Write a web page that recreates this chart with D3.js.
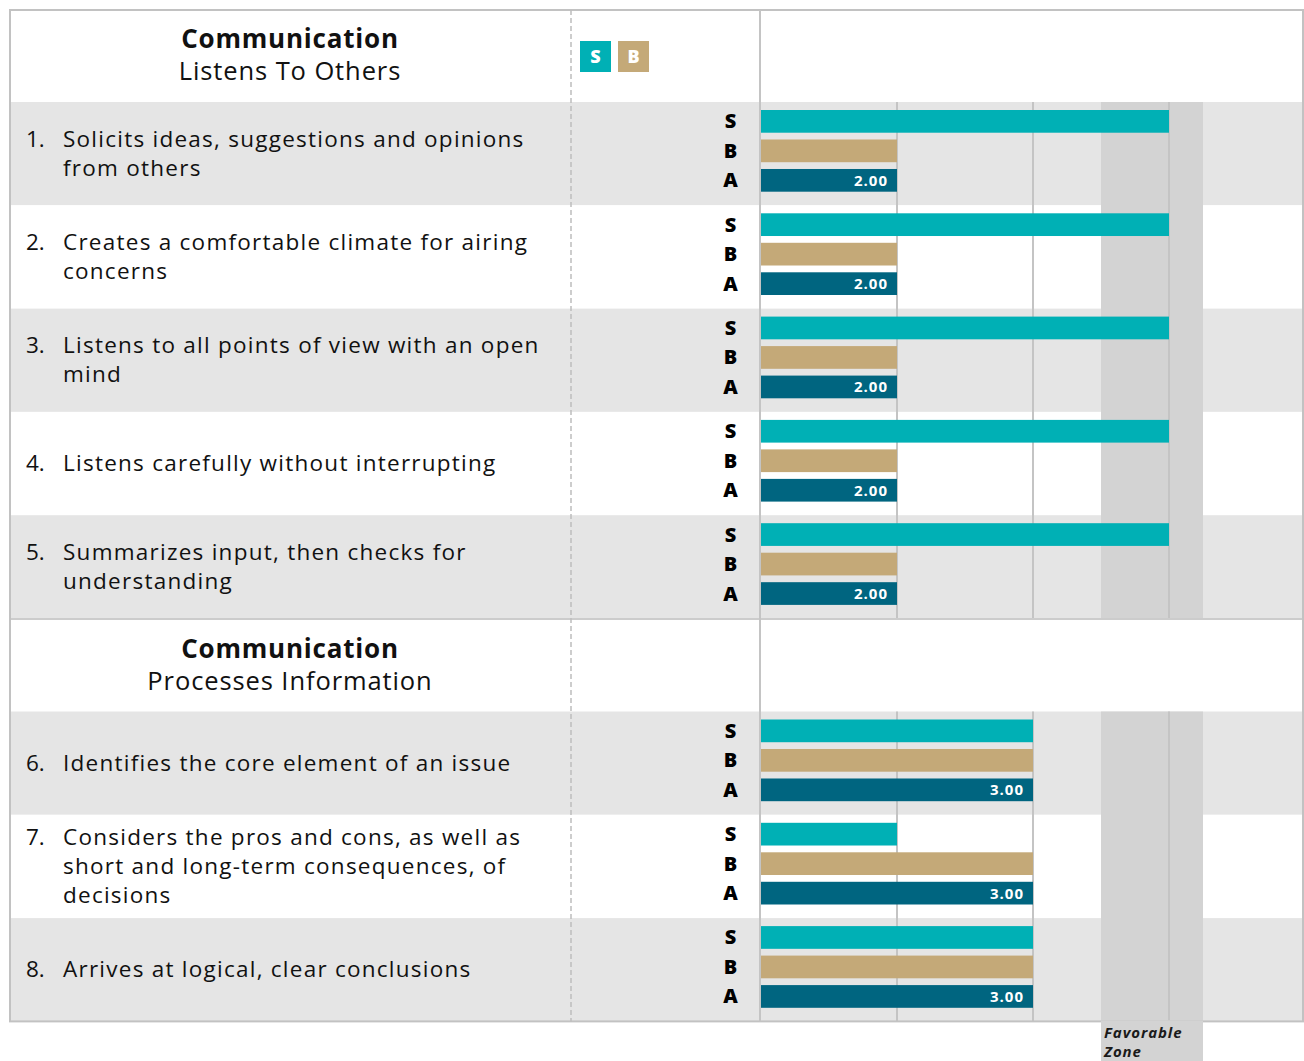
<!DOCTYPE html>
<html>
<head>
<meta charset="utf-8">
<script src="https://cdn.jsdelivr.net/npm/d3@7"></script>
<style>
  body { margin: 0; background: white; }
  svg { display: block; font-family: "Open Sans", sans-serif; }
</style>
</head>
<body>
<svg id="chart"></svg>
<script>
// chart data
var sections = [
    { title: "Communication", sub: "Listens To Others", first: 0, count: 5 },
    { title: "Communication", sub: "Processes Information", first: 5, count: 3 }
]
var items = [
    "Solicits ideas, suggestions and opinions\nfrom others",
    "Creates a comfortable climate for airing\nconcerns",
    "Listens to all points of view with an open\nmind",
    "Listens carefully without interrupting",
    "Summarizes input, then checks for\nunderstanding",
    "Identifies the core element of an issue",
    "Considers the pros and cons, as well as\nshort and long-term consequences, of\ndecisions",
    "Arrives at logical, clear conclusions"
]
var selfScores = [4, 4, 4, 4, 4, 3, 2, 3]
var bossScores = [2, 2, 2, 2, 2, 3, 3, 3]
var avgScores  = [2, 2, 2, 2, 2, 3, 3, 3]
var raters = ["S", "B", "A"]
var legendKeys = ["S", "B"]
var gridValues = [2, 3, 4]
var favorableZone = [3.5, 4.25]

var width = 1304, height = 1061
var tblLeft = 10, tblRight = 1303, tblTop = 10
var textCol = 571, labelCol = 760
var headH = 92, rowH = 103.3

var colors = { S: "#00b0b5", B: "#c4a978", A: "#006580" }
var rowGray = "#e5e5e5"
var lineGray = "#c4c4c4"

var svg = d3.select("#chart")
    .attr("width", width)
    .attr("height", height)

var xScale = d3.scaleLinear()
    .domain([1, 5])
    .range([761, 1305])

// work out row positions
var rows = []
var heads = []
var yPos = tblTop
sections.forEach(function (s, si) {
    heads.push({ y: yPos, title: s.title, sub: s.sub })
    yPos += headH
    for (var i = 0; i < s.count; i++) {
        rows.push({ y: yPos, idx: s.first + i, gray: i % 2 == 0, section: si })
        yPos += rowH
    }
    if (si < sections.length - 1) yPos += 1
})
var tblBottom = yPos

// row backgrounds
svg.selectAll("rect.rowbg")
    .data(rows)
    .join("rect")
    .attr("class", "rowbg")
    .attr("x", tblLeft)
    .attr("y", d => d.y)
    .attr("width", tblRight - tblLeft)
    .attr("height", rowH)
    .attr("fill", d => d.gray ? rowGray : "white")

// favorable zone inside each block of rows
var zoneX0 = xScale(favorableZone[0]), zoneX1 = xScale(favorableZone[1])
sections.forEach(function (s, si) {
    var r0 = rows.filter(r => r.section == si)
    svg.append("rect")
        .attr("x", zoneX0)
        .attr("y", r0[0].y)
        .attr("width", zoneX1 - zoneX0)
        .attr("height", r0.length * rowH)
        .attr("fill", "#d3d3d3")
})

// gridlines in data rows
sections.forEach(function (s, si) {
    var r0 = rows.filter(r => r.section == si)
    var y0 = r0[0].y, y1 = r0[r0.length - 1].y + rowH
    svg.append("g")
        .selectAll("line")
        .data(gridValues)
        .join("line")
        .attr("x1", d => xScale(d))
        .attr("x2", d => xScale(d))
        .attr("y1", y0)
        .attr("y2", y1)
        .attr("stroke", lineGray)
        .attr("stroke-width", 2)
})

// section separator and outer border
svg.append("line")
    .attr("x1", tblLeft).attr("x2", tblRight)
    .attr("y1", heads[1].y - 0.5).attr("y2", heads[1].y - 0.5)
    .attr("stroke", "#cccccc").attr("stroke-width", 2)

svg.append("rect")
    .attr("x", tblLeft)
    .attr("y", tblTop)
    .attr("width", tblRight - tblLeft)
    .attr("height", tblBottom - tblTop)
    .attr("fill", "none")
    .attr("stroke", "#c2c2c2")
    .attr("stroke-width", 2)

// zone continues below the table with its label
svg.append("rect")
    .attr("x", zoneX0)
    .attr("y", tblBottom - 1)
    .attr("width", zoneX1 - zoneX0)
    .attr("height", height - tblBottom + 1)
    .attr("fill", "#d3d3d3")

svg.append("text")
    .attr("y", tblBottom + 17)
    .style("font-size", "15px")
    .style("font-weight", 700)
    .style("font-style", "italic")
    .style("letter-spacing", "0.9px")
    .attr("fill", "#1a1a1a")
    .selectAll("tspan")
    .data(["Favorable", "Zone"])
    .join("tspan")
    .attr("x", zoneX0 + 3)
    .attr("dy", (d, i) => i == 0 ? 0 : 19)
    .text(d => d)

// column dividers
svg.append("line")
    .attr("x1", textCol).attr("x2", textCol)
    .attr("y1", tblTop).attr("y2", tblBottom)
    .attr("stroke", "#bdbdbd")
    .attr("stroke-width", 1.5)
    .attr("stroke-dasharray", "5,3")

svg.append("line")
    .attr("x1", labelCol).attr("x2", labelCol)
    .attr("y1", tblTop).attr("y2", tblBottom)
    .attr("stroke", lineGray)
    .attr("stroke-width", 2)

// section headers
var headG = svg.selectAll("g.head")
    .data(heads)
    .join("g")
    .attr("class", "head")

headG.append("text")
    .attr("x", 290)
    .attr("y", d => d.y + 38)
    .attr("text-anchor", "middle")
    .style("font-size", "26px")
    .style("font-weight", 700)
    .style("letter-spacing", "0.8px")
    .attr("fill", "#111")
    .text(d => d.title)

headG.append("text")
    .attr("x", 290)
    .attr("y", d => d.y + 70)
    .attr("text-anchor", "middle")
    .style("font-size", "25.5px")
    .style("letter-spacing", "0.9px")
    .attr("fill", "#111")
    .text(d => d.sub)

// legend
var legend = svg.selectAll("g.legend")
    .data(legendKeys)
    .join("g")
    .attr("class", "legend")
    .attr("transform", (d, i) => "translate(" + (580 + i * 38) + "," + 41 + ")")

legend.append("rect")
    .attr("width", 31)
    .attr("height", 31)
    .attr("fill", d => colors[d])

legend.append("text")
    .attr("x", 15.5)
    .attr("y", 22)
    .attr("text-anchor", "middle")
    .style("font-size", "18px")
    .style("font-weight", 800)
    .attr("fill", "white")
    .text(d => d)

// item rows
var rowG = svg.selectAll("g.row")
    .data(rows)
    .join("g")
    .attr("class", "row")

rowG.each(function (r) {
    var g = d3.select(this)
    var lines = items[r.idx].split("\n")
    var mid = r.y + rowH / 2
    var firstBase = mid + 7.5 - (lines.length - 1) * 14.4

    g.append("text")
        .attr("x", 26)
        .attr("y", firstBase)
        .style("font-size", "22.5px")
        .attr("fill", "#111")
        .text((r.idx + 1) + ".")

    g.append("text")
        .attr("y", firstBase)
        .style("font-size", "22.5px")
        .style("letter-spacing", "1.25px")
        .attr("fill", "#111")
        .selectAll("tspan")
        .data(lines)
        .join("tspan")
        .attr("x", 63)
        .attr("dy", (d, i) => i == 0 ? 0 : 28.8)
        .text(d => d)

    var yBand = d3.scaleBand()
        .domain(raters)
        .range([r.y + 8, r.y + 89.7])
        .paddingInner(0.23)

    var vals = { S: selfScores[r.idx], B: bossScores[r.idx], A: avgScores[r.idx] }

    g.selectAll("text.rater")
        .data(raters)
        .join("text")
        .attr("class", "rater")
        .attr("x", 730.5)
        .attr("y", d => yBand(d) + yBand.bandwidth() / 2 + 7)
        .attr("text-anchor", "middle")
        .style("font-size", "20px")
        .style("font-weight", 800)
        .attr("fill", "#000")
        .text(d => d)

    g.selectAll("rect.bar")
        .data(raters)
        .join("rect")
        .attr("class", "bar")
        .attr("x", xScale(1))
        .attr("y", d => yBand(d))
        .attr("width", d => xScale(vals[d]) - xScale(1))
        .attr("height", yBand.bandwidth())
        .attr("fill", d => colors[d])

    g.append("text")
        .attr("x", xScale(vals.A) - 9)
        .attr("y", yBand("A") + yBand.bandwidth() / 2 + 5.5)
        .attr("text-anchor", "end")
        .style("font-size", "15px")
        .style("font-weight", 700)
        .style("letter-spacing", "1px")
        .attr("fill", "white")
        .text(d3.format(".2f")(vals.A))
})
</script>
</body>
</html>
